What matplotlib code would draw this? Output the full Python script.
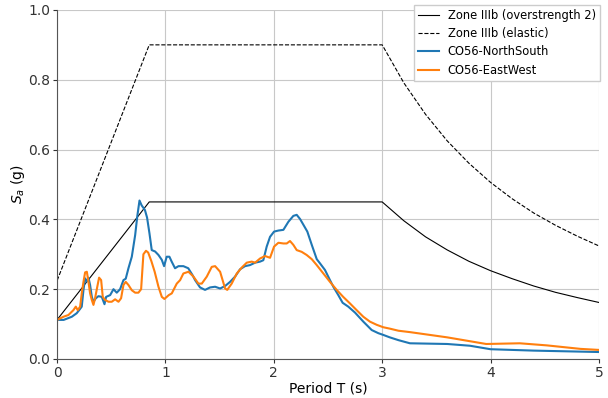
import numpy as np
import matplotlib
matplotlib.use("Agg")
import matplotlib.pyplot as plt

# design spectra (Zone IIIb)
T_design = [0.0, 0.85, 3.0, 3.2, 3.4, 3.6, 3.8, 4.0, 4.2, 4.4, 4.6, 4.8, 5.0]
sa_elastic = [0.225, 0.9, 0.9, 0.791, 0.701, 0.625, 0.561, 0.506, 0.459, 0.418,
              0.383, 0.352, 0.324]
sa_over2 = [0.1125, 0.45, 0.45, 0.396, 0.350, 0.3125, 0.280, 0.253, 0.230, 0.209,
            0.191, 0.176, 0.162]

# CO56 response spectra
T_ns = [0.0, 0.06, 0.135, 0.18, 0.203, 0.227, 0.243, 0.258, 0.274, 0.289, 0.304,
        0.32, 0.335, 0.357, 0.381, 0.412, 0.437, 0.452, 0.489, 0.52, 0.55, 0.581,
        0.612, 0.633, 0.658, 0.689, 0.72, 0.74, 0.76, 0.78, 0.81, 0.83, 0.852,
        0.873, 0.904, 0.935, 0.966, 0.987, 1.011, 1.036, 1.057, 1.088, 1.12,
        1.165, 1.21, 1.25, 1.273, 1.319, 1.365, 1.411, 1.458, 1.504, 1.55, 1.596,
        1.642, 1.688, 1.734, 1.78, 1.827, 1.873, 1.903, 1.934, 1.965, 2.002,
        2.042, 2.088, 2.134, 2.18, 2.211, 2.242, 2.272, 2.309, 2.35, 2.396,
        2.426, 2.472, 2.518, 2.549, 2.595, 2.635, 2.687, 2.749, 2.826, 2.903,
        2.964, 3.01, 3.07, 3.15, 3.256, 3.6, 3.81, 4.0, 4.4, 5.0]
sa_ns = [0.112, 0.112, 0.121, 0.131, 0.14, 0.150, 0.198, 0.231, 0.222, 0.233, 0.212,
         0.178, 0.164, 0.174, 0.18, 0.178, 0.157, 0.178, 0.183, 0.2, 0.19, 0.2,
         0.226, 0.23, 0.26, 0.293, 0.355, 0.41, 0.454, 0.44, 0.427, 0.405, 0.36,
         0.312, 0.308, 0.298, 0.284, 0.266, 0.293, 0.293, 0.279, 0.26, 0.266,
         0.266, 0.26, 0.24, 0.226, 0.205, 0.198, 0.205, 0.207, 0.202, 0.209, 0.221,
         0.236, 0.257, 0.266, 0.269, 0.276, 0.279, 0.283, 0.322, 0.35, 0.365,
         0.368, 0.37, 0.393, 0.41, 0.413, 0.401, 0.385, 0.365, 0.327, 0.286,
         0.274, 0.255, 0.226, 0.207, 0.183, 0.161, 0.15, 0.133, 0.107, 0.083,
         0.074, 0.069, 0.062, 0.054, 0.045, 0.043, 0.038, 0.028, 0.024, 0.020]

T_ew = [0.0, 0.058, 0.104, 0.15, 0.172, 0.19, 0.212, 0.227, 0.243, 0.258, 0.274,
        0.289, 0.304, 0.32, 0.335, 0.35, 0.366, 0.387, 0.406, 0.421, 0.443, 0.474,
        0.504, 0.535, 0.566, 0.59, 0.612, 0.633, 0.658, 0.689, 0.72, 0.75, 0.775,
        0.796, 0.82, 0.84, 0.87, 0.9, 0.935, 0.966, 0.99, 1.03, 1.058, 1.104,
        1.135, 1.165, 1.212, 1.258, 1.304, 1.335, 1.381, 1.427, 1.458, 1.504,
        1.55, 1.57, 1.611, 1.658, 1.704, 1.75, 1.796, 1.827, 1.873, 1.919, 1.965,
        2.002, 2.042, 2.088, 2.119, 2.149, 2.18, 2.211, 2.257, 2.303, 2.35, 2.396,
        2.457, 2.518, 2.58, 2.64, 2.7, 2.764, 2.826, 2.887, 2.949, 3.01, 3.07,
        3.15, 3.256, 3.6, 3.96, 4.27, 4.52, 4.83, 5.0]
sa_ew = [0.112, 0.121, 0.126, 0.14, 0.15, 0.14, 0.15, 0.188, 0.221, 0.248, 0.25,
         0.221, 0.188, 0.169, 0.155, 0.174, 0.2, 0.233, 0.226, 0.178, 0.169, 0.164,
         0.164, 0.171, 0.164, 0.174, 0.212, 0.221, 0.212, 0.197, 0.19, 0.19, 0.2,
         0.3, 0.31, 0.305, 0.28, 0.25, 0.207, 0.178, 0.172, 0.183, 0.188, 0.216,
         0.226, 0.245, 0.25, 0.236, 0.216, 0.216, 0.236, 0.264, 0.266, 0.25,
         0.202, 0.198, 0.216, 0.245, 0.262, 0.276, 0.279, 0.276, 0.288, 0.295,
         0.29, 0.322, 0.333, 0.331, 0.331, 0.338, 0.327, 0.312, 0.307, 0.298,
         0.286, 0.269, 0.245, 0.221, 0.198, 0.178, 0.16, 0.14, 0.121, 0.107,
         0.098, 0.091, 0.087, 0.081, 0.077, 0.062, 0.043, 0.045, 0.039, 0.029,
         0.026]

fig = plt.figure(figsize=(6.08, 3.98), dpi=100)
ax = fig.add_axes([0.094, 0.098, 0.891, 0.877])

ax.plot(T_design, sa_over2, color="black", lw=0.8, label="Zone IIIb (overstrength 2)")
ax.plot(T_design, sa_elastic, color="black", lw=0.8, ls="--",
        label="Zone IIIb (elastic)")
ax.plot(T_ns, sa_ns, color="#1f77b4", lw=1.5, label="CO56-NorthSouth")
ax.plot(T_ew, sa_ew, color="#ff7f0e", lw=1.5, label="CO56-EastWest")

ax.set_xlim(0, 5)
ax.set_ylim(0, 1)
ax.set_yticks(np.arange(0, 1.01, 0.2))
ax.grid(True, color="#c8c8c8", lw=0.8)
ax.set_axisbelow(True)
for s in ["top", "right"]:
    ax.spines[s].set_visible(False)
for s in ["left", "bottom"]:
    ax.spines[s].set_color("#555555")
ax.tick_params(colors="#333333", length=3, pad=2)
ax.set_xlabel("Period T (s)", labelpad=1)
ax.set_ylabel("$S_a$ (g)", labelpad=1)
ax.legend(loc="upper right", bbox_to_anchor=(1.002, 1.014), borderaxespad=0,
          fontsize=8.3, labelspacing=0.45, handlelength=1.8, borderpad=0.35,
          fancybox=False, framealpha=1, edgecolor="#cccccc")

fig.savefig("out.png", dpi=100)
